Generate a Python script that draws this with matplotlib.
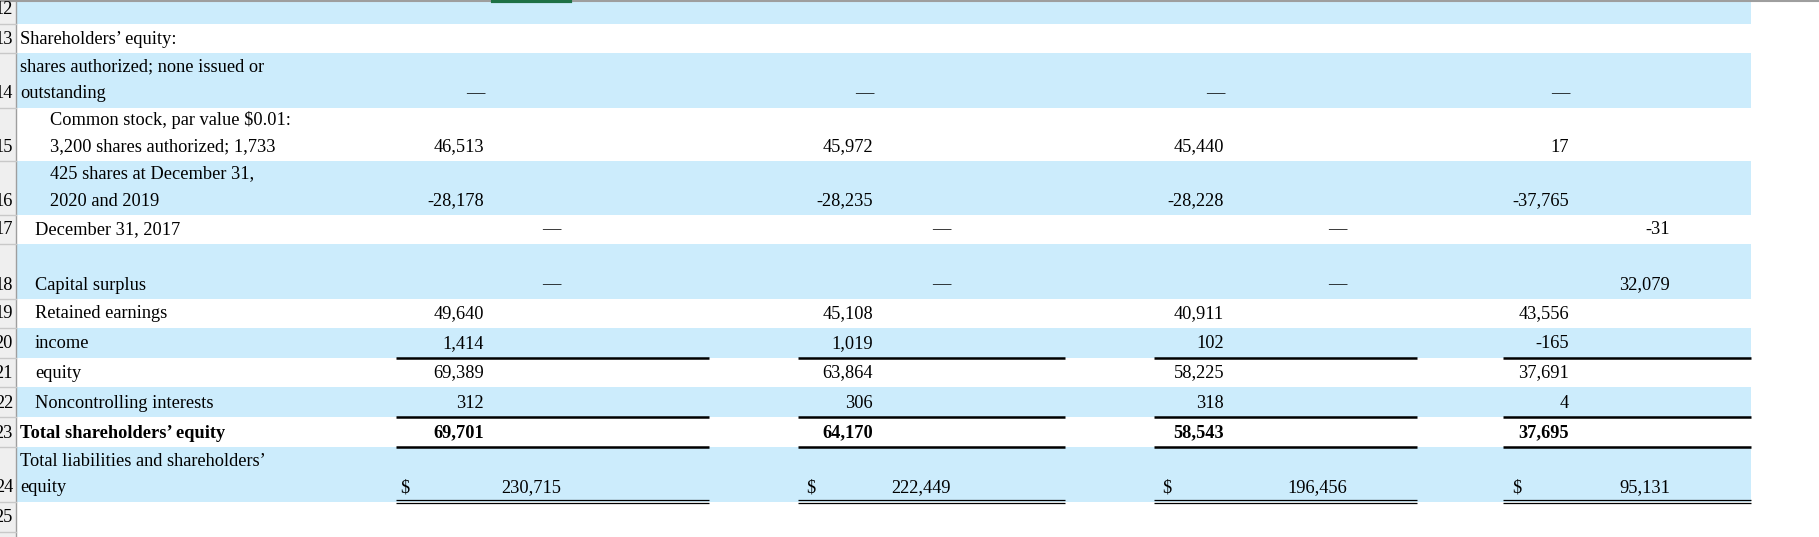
import matplotlib
matplotlib.use("Agg")
import matplotlib.pyplot as plt
from matplotlib.patches import Rectangle
from matplotlib.transforms import Bbox, TransformedBbox

# ---------------- data ----------------
row_numbers = ["12", "13", "14", "15", "16", "17", "18", "19", "20", "21", "22", "23", "24", "25"]
labels = [
    [""],
    ["Shareholders\u2019 equity:"],
    ["shares authorized; none issued or", "outstanding"],
    ["Common stock, par value $0.01:", "3,200 shares authorized; 1,733"],
    ["425 shares at December 31,", "2020 and 2019"],
    ["December 31, 2017"],
    ["Capital surplus"],
    ["Retained earnings"],
    ["income"],
    ["equity"],
    ["Noncontrolling interests"],
    ["Total shareholders\u2019 equity"],
    ["Total liabilities and shareholders\u2019", "equity"],
    [""],
]
label_indent = [0, 0, 0, 2, 2, 1, 1, 1, 1, 1, 1, 0, 0, 0]
bold_rows = [11]

col_main = [
    None, None,
    ["\u2014", "\u2014", "\u2014", "\u2014"],
    ["46,513", "45,972", "45,440", "17"],
    ["-28,178", "-28,235", "-28,228", "-37,765"],
    None, None,
    ["49,640", "45,108", "40,911", "43,556"],
    ["1,414", "1,019", "102", "-165"],
    ["69,389", "63,864", "58,225", "37,691"],
    ["312", "306", "318", "4"],
    ["69,701", "64,170", "58,543", "37,695"],
    None, None,
]
col_second = [
    None, None, None, None, None,
    ["\u2014", "\u2014", "\u2014", "-31"],
    ["\u2014", "\u2014", "\u2014", "32,079"],
    None, None, None, None, None,
    ["230,715", "222,449", "196,456", "95,131"],
    None,
]
dollar_rows = [12]

# ---------------- layout ----------------
W, H = 1819, 537
row_bounds = [0, 24, 53, 108, 161, 215, 244, 299, 328, 358, 387, 417, 447, 502, 532]
blue_rows = [0, 2, 4, 6, 8, 10, 12]
blue = "#CCECFC"
table_right = 1751
hdr_w = 16
col_start = [396, 798, 1154, 1503]
col_end = [709, 1065, 1417, 1751]
main_right = [484, 873, 1224, 1569]
second_right = [561, 951, 1347, 1670]
dollar_x = [400, 806, 1162, 1512]
indent_px = [20, 35, 50]
font = "Liberation Serif"
fs = 13.2

fig = plt.figure(figsize=(W / 100, H / 100), dpi=100)
ax = fig.add_axes([0, 0, 1, 1])
ax.set_xlim(0, W)
ax.set_ylim(H, 0)
ax.axis("off")

for i in blue_rows:
    ax.add_patch(Rectangle((hdr_w, row_bounds[i]), table_right - hdr_w,
                           row_bounds[i + 1] - row_bounds[i], color=blue, lw=0))

# row header column
ax.add_patch(Rectangle((0, 0), hdr_w, H, color="#EFEFEF", lw=0))
ax.plot([hdr_w, hdr_w], [0, H], color="#9E9E9E", lw=1)
for b in row_bounds[1:]:
    ax.plot([0, hdr_w], [b, b], color="#C8C8C8", lw=1)
ax.plot([0, W], [0.5, 0.5], color="#9E9E9E", lw=1.5)
ax.plot([493, 570], [1, 1], color="#1E7145", lw=3)

hdr_clip = TransformedBbox(Bbox([[0, 0], [hdr_w, H]]), ax.transData)

def text(x, y, s, ha="left", bold=False, clip=False):
    t = ax.text(x, y, s, ha=ha, va="center", fontsize=fs, family=font,
                fontweight="bold" if bold else "normal", color="black")
    if clip:
        t.set_clip_on(True)
        t.set_clip_box(hdr_clip)

line_gap = 27
for i in range(len(labels)):
    bottom = row_bounds[i + 1]
    yb = bottom - 14
    text(hdr_w - 3, yb, row_numbers[i], ha="right", clip=True)
    lines = labels[i]
    for k, s in enumerate(lines):
        y = yb - (len(lines) - 1 - k) * line_gap
        text(indent_px[label_indent[i]], y, s, bold=(i in bold_rows))
    if col_main[i]:
        for c, v in enumerate(col_main[i]):
            if v == "\u2014":
                text(main_right[c] - 9, yb, v, ha="center")
            else:
                text(main_right[c], yb, v, ha="right", bold=(i in bold_rows))
    if col_second[i]:
        for c, v in enumerate(col_second[i]):
            if v == "\u2014":
                text(second_right[c] - 10, yb, v, ha="center")
            else:
                text(second_right[c], yb, v, ha="right")
    if i in dollar_rows:
        for c in range(4):
            text(dollar_x[c], yb, "$")

# underlines
for c in range(4):
    for y in (row_bounds[9], row_bounds[11], row_bounds[12]):
        ax.plot([col_start[c], col_end[c]], [y, y], color="black", lw=1.8,
                solid_capstyle="butt")
    for y in (row_bounds[13] - 2, row_bounds[13] + 1):
        ax.plot([col_start[c], col_end[c]], [y, y], color="black", lw=0.9,
                solid_capstyle="butt")

fig.savefig("out.png", dpi=100)
